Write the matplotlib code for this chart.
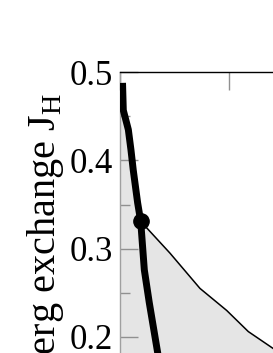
import matplotlib
matplotlib.use("Agg")
import matplotlib.pyplot as plt
from matplotlib.ticker import MultipleLocator

plt.rcParams['font.family'] = ['Liberation Serif', 'DejaVu Serif']
plt.rcParams['mathtext.fontset'] = 'custom'
plt.rcParams['mathtext.rm'] = 'Liberation Serif'

# boundary (thick line) data
thick_x = [0.025, 0.032, 0.078, 0.102, 0.123, 0.163, 0.191, 0.224, 0.269, 0.346, 0.42]
thick_y = [0.488, 0.457, 0.435, 0.412, 0.389, 0.352, 0.331, 0.276, 0.239, 0.182, 0.12]
# thin line from the critical point
thin_x = [0.191, 0.458, 0.732, 0.976, 1.174, 1.399, 1.60]
thin_y = [0.331, 0.295, 0.255, 0.230, 0.206, 0.187, 0.170]
# critical point
pt_x = [0.191]
pt_y = [0.331]

yticks = [0.2, 0.3, 0.4, 0.5]
ylabels = ['0.2', '0.3', '0.4', '0.5']

fig = plt.figure(figsize=(2.73, 3.53), dpi=100)
ax = fig.add_axes([0.4388, -0.4541, 1.6044, 1.2493])
ax.set_xlim(0, 4)
ax.set_ylim(0, 0.5)

# gray region: left of thick line above point, below thin line after
poly_x = [0, thick_x[0]] + thick_x[1:7] + thin_x[1:] + [thin_x[-1], 0]
poly_y = [thick_y[0], thick_y[0]] + thick_y[1:7] + thin_y[1:] + [0, 0]
ax.fill(poly_x, poly_y, color='#e5e5e5', lw=0, zorder=1)

ax.plot(thin_x, thin_y, color='black', lw=1.1, zorder=2)
ax.plot(thick_x, thick_y, color='black', lw=5.0, zorder=3, solid_capstyle='butt')
ax.plot(pt_x, pt_y, 'o', color='black', ms=11, zorder=4)

ax.set_yticks(yticks)
ax.set_yticklabels(ylabels)
ax.yaxis.set_minor_locator(MultipleLocator(0.05))
ax.xaxis.set_major_locator(MultipleLocator(1))
ax.tick_params(axis='y', which='major', direction='in', length=13, width=1,
               color='#909090', labelsize=25, pad=5)
ax.tick_params(axis='y', which='minor', direction='in', length=7, width=1,
               color='#909090')
ax.tick_params(axis='x', which='major', direction='in', length=13, width=1,
               color='#909090', top=True, labeltop=False, bottom=True, labelbottom=False)
ax.spines['left'].set_color('#a0a0a0')
ax.spines['left'].set_linewidth(1)
ax.spines['top'].set_color('black')
ax.spines['top'].set_linewidth(1)

fig.text(55 / 273, 1 - 93 / 353, r'Heisenberg exchange J$_\mathrm{H}$', rotation=90,
         rotation_mode='anchor', ha='right', va='baseline', fontsize=29)

fig.savefig('out.png', dpi=100)
